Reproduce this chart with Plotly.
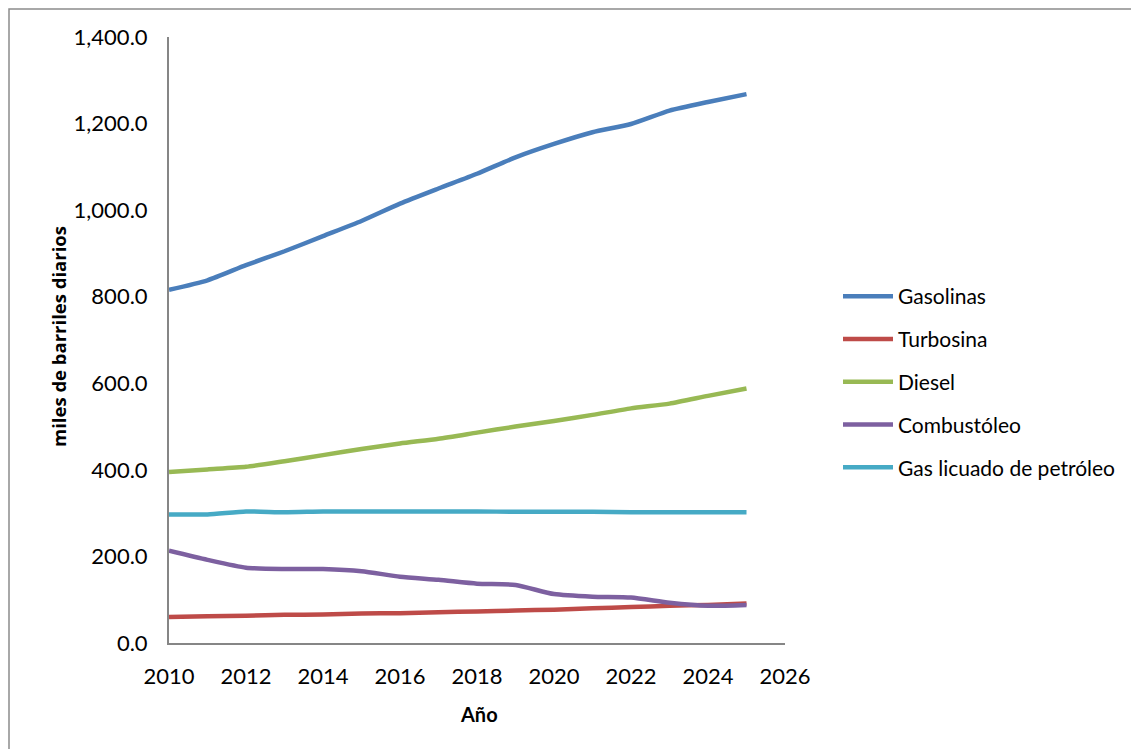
import plotly.graph_objects as go

years = list(range(2010, 2026))

gasolinas = [816, 838, 873, 905, 940, 975, 1015, 1050, 1084, 1122, 1153, 1180, 1199, 1230, 1250, 1268]
turbosina = [60, 62, 63, 65, 66, 68, 69, 71, 73, 75, 77, 80, 83, 86, 88, 91]
diesel = [395, 401, 407, 420, 434, 448, 461, 472, 486, 500, 513, 527, 542, 553, 571, 588]
combustoleo = [213, 192, 174, 171, 171, 166, 153, 146, 137, 134, 113, 107, 105, 93, 86, 88]
glp = [297, 297, 304, 302, 304, 304, 304, 304, 304, 303, 303, 303, 302, 302, 302, 302]

series = [
    ("Gasolinas", gasolinas, "#4A7EBB"),
    ("Turbosina", turbosina, "#BE4B48"),
    ("Diesel", diesel, "#98B954"),
    ("Combustóleo", combustoleo, "#7D60A0"),
    ("Gas licuado de petróleo", glp, "#46AAC5"),
]

y_ticks = [0, 200, 400, 600, 800, 1000, 1200, 1400]
x_ticks = list(range(2010, 2027, 2))

fig = go.Figure()
for i, (name, vals, color) in enumerate(series):
    fig.add_trace(go.Scatter(
        x=years, y=vals, name=name, mode="lines",
        line=dict(color=color, width=4.5, shape="spline", smoothing=0.6),
        legendgroup=f"g{i}",
    ))

OFF = 8  # page body margin offset
L, R, T, B = 169 - OFF, 785 - OFF, 37 - OFF, 643 - OFF
W, H = 1139, 749

def px(xp):
    return (xp - OFF - L) / (R - L)

def py(yp):
    return (B - (yp - OFF)) / (B - T)

fig.update_layout(
    width=W, height=H,
    margin=dict(l=L, r=W - R, t=T, b=H - B, pad=0),
    paper_bgcolor="white", plot_bgcolor="white",
    font=dict(family="Lato, Open Sans, sans-serif", size=22, color="#000000"),
    showlegend=True,
    legend=dict(
        x=px(838), y=py(276), xanchor="left", yanchor="top",
        traceorder="grouped", tracegroupgap=12.5,
        font=dict(family="Lato, Open Sans, sans-serif", size=21, color="#000000"),
        bgcolor="rgba(0,0,0,0)", itemwidth=50,
    ),
    xaxis=dict(
        range=[2010, 2026], tickmode="array", tickvals=x_ticks,
        ticktext=[str(v) for v in x_ticks],
        showgrid=False, zeroline=False, showline=True,
        linecolor="#868686", linewidth=2, ticks="",
        ticklabelstandoff=13,
        tickfont=dict(size=22),
    ),
    yaxis=dict(
        range=[0, 1400], tickmode="array", tickvals=y_ticks,
        ticktext=[f"{v:,.1f}" for v in y_ticks],
        showgrid=False, zeroline=False, showline=True,
        linecolor="#868686", linewidth=2, ticks="",
        ticklabelstandoff=15,
        tickfont=dict(size=22),
    ),
    annotations=[
        dict(text="<b>miles de barriles diarios</b>", textangle=-90,
             x=px(58), y=py(337), xref="paper", yref="paper",
             showarrow=False, xanchor="center", yanchor="middle",
             font=dict(family="Open Sans, sans-serif", size=18.5, color="#000000")),
        dict(text="<b>Año</b>",
             x=px(479), y=py(714), xref="paper", yref="paper",
             showarrow=False, xanchor="center", yanchor="middle",
             font=dict(family="Lato, sans-serif", size=20, color="#000000")),
    ],
    shapes=[
        dict(type="rect", xref="paper", yref="paper",
             x0=px(9), x1=px(1160), y0=py(770), y1=py(9),
             line=dict(color="#8C8C8C", width=1.5), fillcolor="rgba(0,0,0,0)",
             layer="below"),
    ],
)

fig.write_html("out.html")
